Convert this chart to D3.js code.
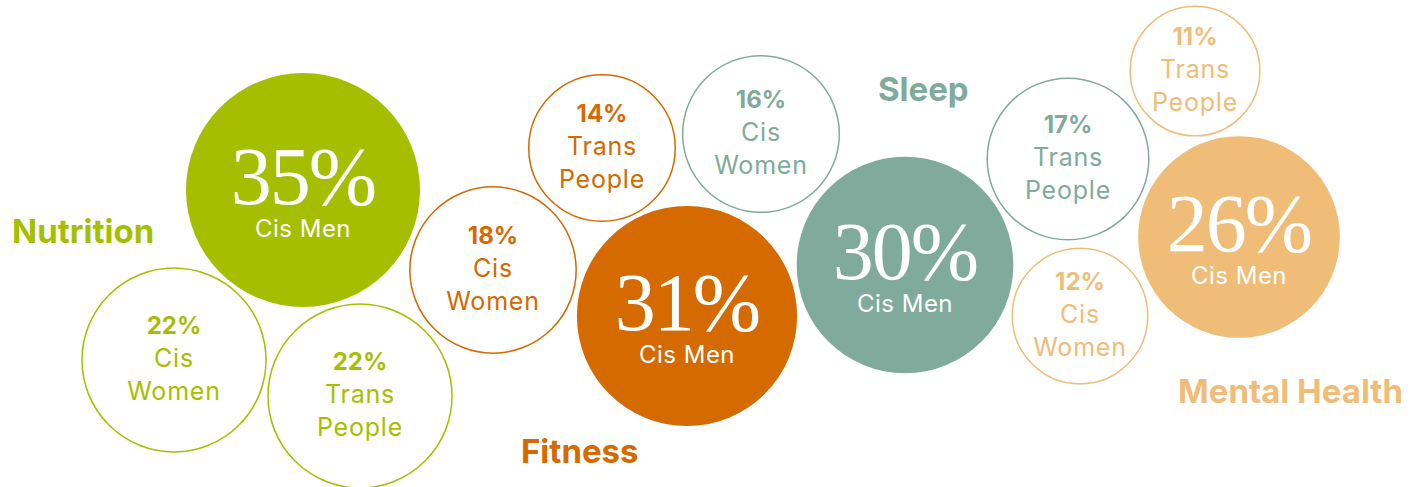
<!DOCTYPE html>
<html>
<head>
<meta charset="utf-8">
<script src="https://cdn.jsdelivr.net/npm/d3@7"></script>
<style>
  html, body { margin: 0; padding: 0; background: #ffffff; }
  svg { display: block; }
</style>
</head>
<body>
<svg id="chart" width="1418" height="487"></svg>
<script>
// Share of respondents naming each area, by group (%)
const categories = ["Nutrition", "Fitness", "Sleep", "Mental Health"];
const groups = ["Cis Men", "Cis Women", "Trans People"];
const cisMen = [35, 31, 30, 26];
const cisWomen = [22, 18, 16, 12];
const transPeople = [22, 14, 17, 11];

const colors = ["#a5bf00", "#d46a00", "#80aa9c", "#efbd78"];

// Bubble centres (layout only)
const centers = {
  "Nutrition":     [[303, 190], [174, 360], [360, 396]],
  "Fitness":       [[687, 316], [493, 270], [602, 148]],
  "Sleep":         [[905, 265], [761, 134], [1068, 159]],
  "Mental Health": [[1239, 237], [1080, 316], [1195, 71]]
};
// Category title anchors (layout only)
const titlePos = {
  "Nutrition": [12, 243],
  "Fitness": [521, 463],
  "Sleep": [878, 101],
  "Mental Health": [1178, 403]
};

const svg = d3.select("#chart");
const r = d3.scaleSqrt().domain([0, 35]).range([0, 117]);
const color = d3.scaleOrdinal().domain(categories).range(colors);

const series = [cisMen, cisWomen, transPeople];
const bubbles = [];
categories.forEach((cat, ci) => {
  groups.forEach((g, gi) => {
    bubbles.push({
      category: cat,
      group: g,
      value: series[gi][ci],
      filled: gi === 0,
      x: centers[cat][gi][0],
      y: centers[cat][gi][1]
    });
  });
});

const sans = "Inter, Lato, sans-serif";
const serif = "'Liberation Serif', 'DejaVu Serif', serif";

const node = svg.selectAll("g.bubble")
  .data(bubbles)
  .join("g")
  .attr("class", "bubble")
  .attr("transform", d => `translate(${d.x},${d.y})`);

node.append("circle")
  .attr("r", d => d.filled ? r(d.value) : r(d.value) - 0.75)
  .attr("fill", d => d.filled ? color(d.category) : "#ffffff")
  .attr("stroke", d => d.filled ? "none" : color(d.category))
  .attr("stroke-width", 1.5);

// Filled bubbles: large serif percentage with the group name beneath
const bigText = node.filter(d => d.filled)
  .append("text")
  .attr("text-anchor", "middle")
  .attr("fill", "#ffffff");
bigText.append("tspan")
  .attr("x", 0)
  .attr("y", 14)
  .style("font-family", serif)
  .style("font-size", "82px")
  .style("letter-spacing", "-2px")
  .text(d => d.value + "%");
bigText.append("tspan")
  .attr("x", 0)
  .attr("y", 47)
  .style("font-family", sans)
  .style("font-size", "24px")
  .style("letter-spacing", "0.5px")
  .text(d => d.group);

// Outlined bubbles: bold percentage, group name split over two lines
const smallText = node.filter(d => !d.filled)
  .append("text")
  .attr("text-anchor", "middle")
  .attr("fill", d => color(d.category))
  .style("font-family", sans);
smallText.append("tspan")
  .attr("x", 0)
  .attr("y", -26)
  .style("font-weight", 700)
  .style("font-size", "24px")
  .text(d => d.value + "%");
smallText.each(function(d) {
  d3.select(this).selectAll("tspan.word")
    .data(d.group.split(" "))
    .join("tspan")
    .attr("class", "word")
    .attr("x", 0)
    .attr("y", (w, i) => 7 + i * 33)
    .style("font-size", "25px")
    .style("letter-spacing", "0.8px")
    .text(w => w);
});

// Category titles
svg.selectAll("text.title")
  .data(categories)
  .join("text")
  .attr("class", "title")
  .attr("x", d => titlePos[d][0])
  .attr("y", d => titlePos[d][1])
  .attr("fill", d => color(d))
  .style("font-family", sans)
  .style("font-weight", 700)
  .style("font-size", "33px")
  .text(d => d);
</script>
</body>
</html>
